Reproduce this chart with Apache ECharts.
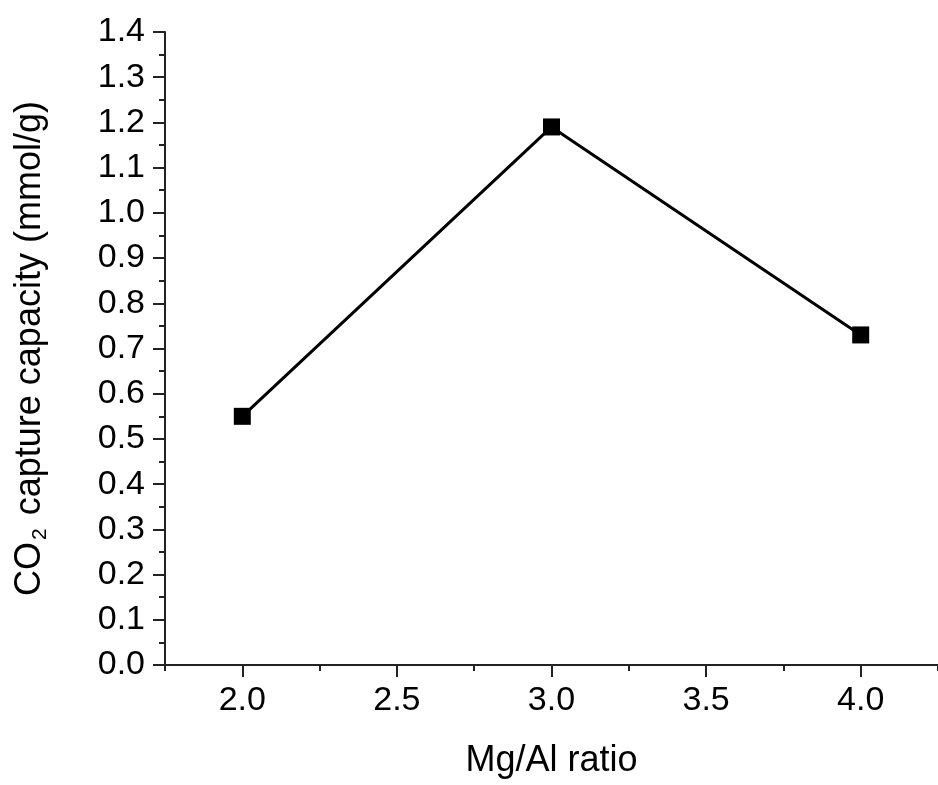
<!DOCTYPE html>
<html lang="en">

<head>
  <meta charset="UTF-8" />
  <title>CO2 capture vs Mg/Al ratio</title>
  <script src="https://cdn.jsdelivr.net/npm/echarts@6.0.0/dist/echarts.min.js"></script>
  <style>
    body {
      margin: 0;
      background: #fff;
    }

    #chart {
      width: 938px;
      height: 785px;
    }
  </style>
</head>

<body>
  <div id="chart"></div>

  <script>
    // data
    const ratios = [2.0, 3.0, 4.0];
    const capacity = [0.55, 1.19, 0.73];
    const xMajorTicks = [2.0, 2.5, 3.0, 3.5, 4.0];
    const xMinorTicks = [1.75, 2.25, 2.75, 3.25, 3.75, 4.25];

    const font = '"Liberation Sans", Arial, sans-serif';
    const labelSize = 34;
    const titleSize = 36;
    const axisColor = '#222';

    const chart = echarts.init(document.getElementById('chart'));

    const option = {
      backgroundColor: '#fff',
      animation: false,
      grid: {
        left: 165,
        top: 32,
        bottom: 120,
        width: 780 // x runs a bit past the right edge, as in the original
      },
      xAxis: [{
        type: 'value',
        min: 1.75,
        max: 4.25,
        name: 'Mg/Al ratio',
        nameLocation: 'middle',
        nameGap: 78,
        nameTextStyle: { fontFamily: font, fontSize: titleSize, color: '#000' },
        axisLine: { show: true, lineStyle: { color: axisColor, width: 2 } },
        axisTick: {
          show: true,
          length: 12,
          customValues: xMajorTicks,
          lineStyle: { color: axisColor, width: 2 }
        },
        axisLabel: {
          customValues: xMajorTicks,
          margin: 19,
          fontFamily: font,
          fontSize: labelSize,
          color: '#000',
          formatter: v => v.toFixed(1)
        },
        splitLine: { show: false }
      }, {
        // minor ticks only
        type: 'value',
        min: 1.75,
        max: 4.25,
        position: 'bottom',
        axisLine: { show: false },
        axisTick: {
          show: true,
          length: 6,
          customValues: xMinorTicks,
          lineStyle: { color: axisColor, width: 2 }
        },
        axisLabel: { show: false },
        splitLine: { show: false }
      }],
      yAxis: {
        type: 'value',
        min: 0,
        max: 1.4,
        interval: 0.1,
        name: 'CO{sub|2} capture capacity (mmol/g)',
        nameLocation: 'middle',
        nameGap: 114,
        nameTextStyle: {
          fontFamily: font,
          fontSize: titleSize,
          color: '#000',
          rich: {
            sub: { fontFamily: font, fontSize: 21, color: '#000', verticalAlign: 'bottom', padding: [20, 3, 0, 2] }
          }
        },
        axisLine: { show: true, lineStyle: { color: axisColor, width: 2 } },
        axisTick: { show: true, length: 12, lineStyle: { color: axisColor, width: 2 } },
        minorTick: { show: true, splitNumber: 2, length: 6, lineStyle: { color: axisColor, width: 2 } },
        axisLabel: {
          margin: 20,
          fontFamily: font,
          fontSize: labelSize,
          color: '#000',
          formatter: v => v.toFixed(1)
        },
        splitLine: { show: false }
      },
      series: [{
        type: 'line',
        data: ratios.map((r, i) => [r, capacity[i]]),
        symbol: 'rect',
        symbolSize: 17,
        lineStyle: { color: '#000', width: 3 },
        itemStyle: { color: '#000' }
      }]
    };

    chart.setOption(option);
  </script>
</body>

</html>
